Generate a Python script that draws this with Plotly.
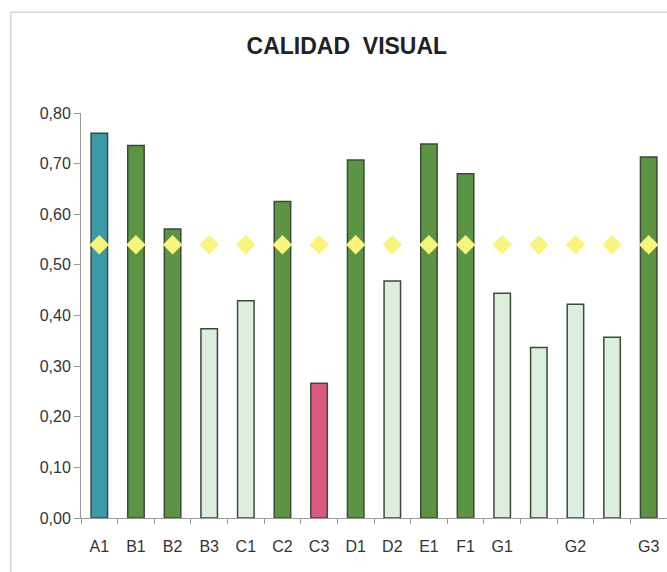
import plotly.graph_objects as go

labels = ["A1", "B1", "B2", "B3", "C1", "C2", "C3", "D1", "D2", "E1", "F1", "G1", "", "G2", "", "G3"]
values = [0.760, 0.736, 0.571, 0.374, 0.429, 0.625, 0.266, 0.707, 0.468, 0.739, 0.680, 0.444, 0.337, 0.422, 0.357, 0.713]
groups = ["teal", "dark", "dark", "light", "light", "dark", "pink", "dark", "light", "dark", "dark", "light", "light", "light", "light", "dark"]
average = [0.54] * len(labels)
y_ticks = [0.0, 0.1, 0.2, 0.3, 0.4, 0.5, 0.6, 0.7, 0.8]

palette = {"teal": "#3A9BA6", "dark": "#5B9543", "light": "#DCEEDD", "pink": "#D95A7E"}
xs = list(range(len(labels)))

fig = go.Figure()
fig.add_trace(go.Bar(
    x=xs, y=values, width=0.45,
    marker=dict(color=[palette[g] for g in groups], line=dict(color="#3C4A3A", width=1.5)),
    showlegend=False,
))
fig.add_trace(go.Scatter(
    x=xs, y=average, mode="markers",
    marker=dict(symbol="diamond", size=15, color="#F8F47C", line=dict(width=0)),
    showlegend=False,
))

fig.update_layout(
    width=667, height=572,
    margin=dict(l=81, r=0, t=113, b=54),
    paper_bgcolor="white", plot_bgcolor="white",
    separators=",.",
    font=dict(family="Liberation Sans, Arial, sans-serif", color="#333333", size=16),
    title=dict(text="<b>CALIDAD  VISUAL</b>", x=0.52, xref="container", xanchor="center",
               y=1 - 45.5 / 572, yref="container", yanchor="middle",
               font=dict(size=23, color="#222222", family="Liberation Sans, Arial, sans-serif")),
    xaxis=dict(
        range=[-0.5, len(labels) - 0.5],
        tickmode="array", tickvals=xs, ticktext=labels,
        ticks="", showline=True, linecolor="#9A9A9A", linewidth=1,
        showgrid=False, zeroline=False,
        ticklabelstandoff=14,
        tickfont=dict(size=16, color="#333333"),
        minor=dict(ticks="outside", tick0=0.5, dtick=1, ticklen=5, tickcolor="#9A9A9A", showgrid=False),
    ),
    yaxis=dict(
        range=[0, 0.8],
        tickmode="array", tickvals=y_ticks, tickformat=".2f",
        ticks="outside", ticklen=6, tickcolor="#9A9A9A",
        showline=True, linecolor="#9A9A9A", linewidth=1,
        showgrid=False, zeroline=False,
        tickfont=dict(size=16, color="#333333"),
    ),
    shapes=[
        dict(type="line", xref="paper", yref="paper", x0=-0.12, x1=-0.12, y0=-0.3, y1=1.2486,
             line=dict(color="#D4D4D4", width=1.5)),
        dict(type="line", xref="paper", yref="paper", x0=-0.12, x1=1.1, y0=1.2486, y1=1.2486,
             line=dict(color="#D4D4D4", width=1.5)),
    ],
)

fig.write_html("out.html", config={"displayModeBar": False},
               post_script="document.body.style.margin='0';document.body.style.overflow='hidden';")
